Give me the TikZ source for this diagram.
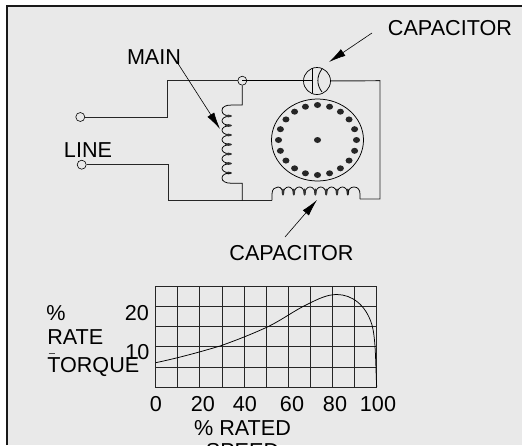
\documentclass[tikz,border=0pt]{standalone}
\usepackage{fontspec}
\setmainfont{Liberation Sans}
\usetikzlibrary{arrows.meta}
\usetikzlibrary{calc}
\usetikzlibrary{shapes.geometric}
\definecolor{panelgray}{HTML}{E9E9E9}
\tikzset{
	every path/.style={line width=0.5pt},
	lbl/.style={inner sep=0pt,font=\fontsize{21.6}{21.6}\selectfont},
	wire/.style={black!85,line width=0.95pt},
	winding/.style={black,line width=0.75pt},
	callout/.style={black,line width=0.6pt,-{Latex[length=17pt,width=8pt]}},
	terminal/.style={circle,draw,black,inner sep=0pt,minimum size=9pt,line width=0.6pt},
	slot/.style={ellipse,fill=black!85,inner sep=0pt,minimum width=7pt,minimum height=6pt},
	grid line/.style={black!85,line width=0.9pt},
}
\begin{document}
\begin{tikzpicture}[x=1pt,y=-1pt]
	\useasboundingbox (0,0) rectangle (522,445);
	% panel...................
	\fill [white] (0,0) rectangle (522,445);
	\fill [panelgray] (7,6) rectangle (522,445);
	\draw [black!90,line width=1.6pt] (7,445) -- (7,6) -- (522,6);

	% labels...................
	\node [lbl] (mainlbl) at (154,57) {MAIN};
	\node [lbl] (linelbl) at (88,150) {LINE};
	\node [lbl] (captop) at (450,28) {CAPACITOR};
	\node [lbl] (capbot) at (291.5,253) {CAPACITOR};

	% line terminals...................
	\node [terminal] (termA) at (80.3,117) {};
	\node [terminal] (termB) at (81.7,164.7) {};
	\node [terminal] (junction) at (242.3,80.7) {};
	\node [circle,draw,black,inner sep=0pt,minimum size=27pt,line width=0.7pt] (capcirc) at (317,81) {};

	% coordinates on the wires
	\coordinate (cornerA) at (167.3,117);
	\coordinate (cornerAtop) at (167.3,80.7);
	\coordinate (cornerB) at (168.3,164.7);
	\coordinate (cornerBbot) at (168.3,200.3);
	\coordinate (mainbot) at (242.3,200.3);
	\coordinate (runstart) at (272,200.3);
	\coordinate (runend) at (360,199);
	\coordinate (rightbot) at (380,199);
	\coordinate (righttop) at (380,80.7);
	\coordinate (plate) at (312.5,80.7);

	% wires...................
	\draw [wire] (termA) -- (cornerA) -- (cornerAtop) -- (junction);
	\draw [black,line width=1.3pt] (junction.center) -- (plate);
	\draw [wire] (capcirc) -- (righttop) -- (rightbot) -- (runend);
	\draw [wire] (termB) -- (cornerB) -- (cornerBbot) -- (mainbot) -- (runstart);

	% main winding...................
	\draw [winding] (junction) -- (242.3,105) -- (232,105)
		.. controls (225,105) and (222,107) .. (222,110.5)
		.. controls (222,114) and (225,116) .. (231,116);
	\foreach \y in {116,125.5,135,144.5,154,163.5} {
		\draw [winding] (231,\y) .. controls (219,\y) and (219,\y+9.5) .. (231,\y+9.5);
	}
	\foreach \y in {116,125.5,135,144.5,154,163.5,173} {
		\fill [black!80] (228.5,\y) ellipse (3.5 and 1.3);
	}
	\draw [winding] (231,173) .. controls (225,173) and (222,175) .. (222,178)
		.. controls (222,181) and (225,183.3) .. (232,183.3) -- (242.3,183.3) -- (mainbot);

	% run winding...................
	\draw [winding] (runstart) -- (272,194) .. controls (272,189) and (275,187) .. (278,187)
		.. controls (281,187) and (283,190) .. (283,195);
	\foreach \x in {283,293.8,304.6,315.4,326.2,337} {
		\draw [winding] (\x,195) .. controls (\x,184.3) and (\x+10.8,184.3) .. (\x+10.8,195);
	}
	\foreach \x in {283,293.8,304.6,315.4,326.2,337,347.8} {
		\fill [black!80] (\x,192) ellipse (1.3 and 3.5);
	}
	\draw [winding] (347.8,195) .. controls (347.8,190) and (350,187) .. (354,187)
		.. controls (358,187) and (360,190) .. (360,194) -- (runend);

	% rotor...................
	\node [ellipse,draw,black,inner sep=0pt,minimum width=92pt,minimum height=82pt,line width=0.75pt] (rotor) at (317.5,140) {};
	\node [slot] (shaft) at (rotor.center) {};
	\foreach \a in {0,18,...,342} {
		\node [slot] at ($(rotor.center)+(\a:39pt and 35pt)$) {};
	}

	% capacitor symbol...................
	\draw [black,line width=0.8pt] (312.5,68) -- (312.5,93);
	\draw [black,line width=0.8pt] (322,69) .. controls (316.5,76) and (316.5,85) .. (322,92);

	% callouts...................
	\draw [callout] (177,62) -- (220,129);
	\draw [callout] (372,33) -- (329,62);
	\draw [callout] (285,237) -- (317,200);

	% torque graph...................
	\foreach \x in {0,...,10} {
		\draw [grid line] ({155.7+\x*22.1},286) -- ({155.7+\x*22.1},387.3);
	}
	\foreach \y in {0,...,5} {
		\draw [grid line] (155.3,{286+\y*20.26}) -- (377,{286+\y*20.26});
	}
	\draw [black,line width=0.75pt] (155.7,362.7) .. controls (178,358) and (200,352) .. (220,346)
		.. controls (237,340) and (252,334) .. (266.7,327.3)
		.. controls (282,320) and (295,310) .. (308,304)
		.. controls (318,299) and (327,294.5) .. (336.7,294.5)
		.. controls (352,294.5) and (366,305) .. (372,325)
		.. controls (376,340) and (375.5,365) .. (376.7,387);

	% graph labels...................
	\node [lbl] (pct) at (56,313) {\%};
	\node [lbl,anchor=west] (rate) at (47,337) {RATE};
	\draw [black!70,line width=0.5pt] (48.5,353.5) -- (55,353.5);
	\node [lbl,anchor=west] (torque) at (47,367) {TORQUE};
	\node [lbl] (ytwenty) at (137,313) {20};
	\node [lbl] (yten) at (137.5,352) {10};
	\node [lbl] (xa) at (156,404) {0};
	\node [lbl] (xb) at (203,404) {20};
	\node [lbl] (xc) at (245,404) {40};
	\node [lbl] (xd) at (292,404) {60};
	\node [lbl] (xe) at (335,404) {80};
	\node [lbl] (xf) at (378,404) {100};
	\node [lbl] (rated) at (242.5,428) {\% RATED};
	\node [lbl] (speed) at (242.5,451) {SPEED};
\end{tikzpicture}
\end{document}
